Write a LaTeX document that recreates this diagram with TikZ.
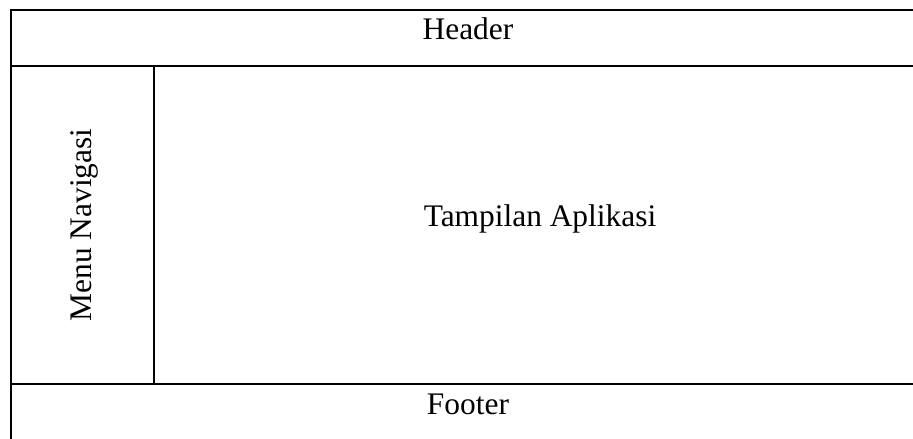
\documentclass[tikz,border=0pt]{standalone}
\usepackage{fontspec}
\setmainfont{Liberation Serif}
\usepackage{tikz}
\usetikzlibrary{positioning}

\begin{document}
\begin{tikzpicture}[
    x=0.382pt, y=-0.382pt,
    frame/.style={draw=black, line width=0.9pt},
    label/.style={font=\fontsize{12}{14}\selectfont, anchor=base, inner sep=0pt}
]
\useasboundingbox (0,0) rectangle (913,439);
\clip (0,0) rectangle (913,439);

% Layout grid: outer frame, header, footer, side menu
\coordinate (tl) at (11,10);
\coordinate (br) at (926,452);
\draw [frame] (tl) rectangle (br);
\draw [frame] (11,66) -- (926,66);
\draw [frame] (11,384) -- (926,384);
\draw [frame] (154,66) -- (154,384);

% Cell labels
\node [label] (header) at (468,40) {Header};
\node [label, rotate=90] (menu) at (92,225) {Menu Navigasi};
\node [label] (app) at (540,227) {Tampilan Aplikasi};
\node [label] (footer) at (468,415) {Footer};
\end{tikzpicture}
\end{document}
